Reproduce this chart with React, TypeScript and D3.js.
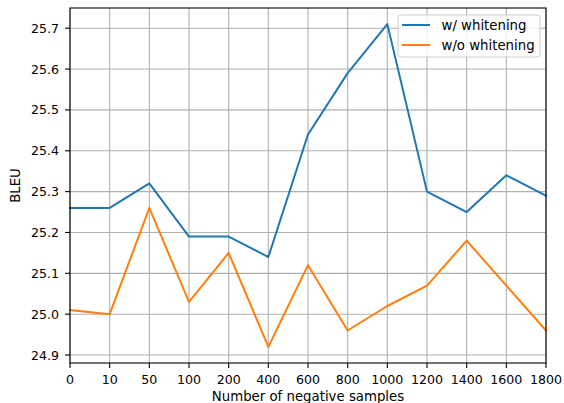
import React from "react";
import * as d3 from "d3";

const categories = ["0", "10", "50", "100", "200", "400", "600", "800", "1000", "1200", "1400", "1600", "1800"];
const withWhitening = [25.26, 25.26, 25.32, 25.19, 25.19, 25.14, 25.44, 25.59, 25.71, 25.30, 25.25, 25.34, 25.29];
const withoutWhitening = [25.01, 25.00, 25.26, 25.03, 25.15, 24.92, 25.12, 24.96, 25.02, 25.07, 25.18, 25.07, 24.96];
const yTicks = [24.9, 25.0, 25.1, 25.2, 25.3, 25.4, 25.5, 25.6, 25.7];
const seriesNames = ["w/ whitening", "w/o whitening"];
const colors = ["#1f77b4", "#ff7f0e"];

const W = 564, H = 403;
const left = 70, right = 546, top = 8, bottom = 363;
const font = "DejaVu Sans, sans-serif";
const tickFs = 12.6;
const labelFs = 13.3;

export default function App() {
  const x = d3.scalePoint<string>().domain(categories).range([left, right]).padding(0);
  const all = [...withWhitening, ...withoutWhitening];
  const mn = d3.min(all)!, mx = d3.max(all)!;
  const m = (mx - mn) * 0.05;
  const y = d3.scaleLinear().domain([mn - m, mx + m]).range([bottom, top]);
  const line = d3.line<number>().x((_, i) => x(categories[i])!).y((d) => y(d));
  const series = [withWhitening, withoutWhitening];

  return (
    <svg width={W} height={H} style={{ position: "absolute", left: 0, top: 0, background: "#fff" }} fontFamily={font}>
      <rect x={0} y={0} width={W} height={H} fill="#fff" />
      {/* grid */}
      {categories.map((c) => (
        <line key={"gx" + c} x1={x(c)} x2={x(c)} y1={top} y2={bottom} stroke="#b0b0b0" strokeWidth={1.1} />
      ))}
      {yTicks.map((t) => (
        <line key={"gy" + t} x1={left} x2={right} y1={y(t)} y2={y(t)} stroke="#b0b0b0" strokeWidth={1.1} />
      ))}
      {/* lines */}
      {series.map((s, i) => (
        <path key={i} d={line(s)!} fill="none" stroke={colors[i]} strokeWidth={2} strokeLinejoin="round" strokeLinecap="square" />
      ))}
      {/* spines */}
      <rect x={left} y={top} width={right - left} height={bottom - top} fill="none" stroke="#000" strokeWidth={1.1} />
      {/* x ticks */}
      {categories.map((c) => (
        <g key={"xt" + c}>
          <line x1={x(c)} x2={x(c)} y1={bottom} y2={bottom + 4.9} stroke="#000" strokeWidth={1.1} />
          <text x={x(c)} y={384} textAnchor="middle" fontSize={tickFs} fill="#000">{c}</text>
        </g>
      ))}
      {/* y ticks */}
      {yTicks.map((t) => (
        <g key={"yt" + t}>
          <line x1={left - 4.9} x2={left} y1={y(t)} y2={y(t)} stroke="#000" strokeWidth={1.1} />
          <text x={59} y={y(t)} dy="0.36em" textAnchor="end" fontSize={tickFs} fill="#000">{t.toFixed(1)}</text>
        </g>
      ))}
      <text x={(left + right) / 2} y={401} textAnchor="middle" fontSize={labelFs} fill="#000">Number of negative samples</text>
      <text transform={`translate(19.5,${(top + bottom) / 2}) rotate(-90)`} textAnchor="middle" fontSize={labelFs} fill="#000">BLEU</text>
      {/* legend */}
      <g>
        <rect x={398} y={15} width={142} height={42} rx={3} fill="#fff" fillOpacity={0.8} stroke="#cccccc" strokeWidth={1} />
        {seriesNames.map((n, i) => (
          <g key={n}>
            <line x1={402} x2={430} y1={25 + i * 20} y2={25 + i * 20} stroke={colors[i]} strokeWidth={2} />
            <text x={441.5} y={25 + i * 20} dy="0.36em" fontSize={labelFs} fill="#000">{n}</text>
          </g>
        ))}
      </g>
    </svg>
  );
}
